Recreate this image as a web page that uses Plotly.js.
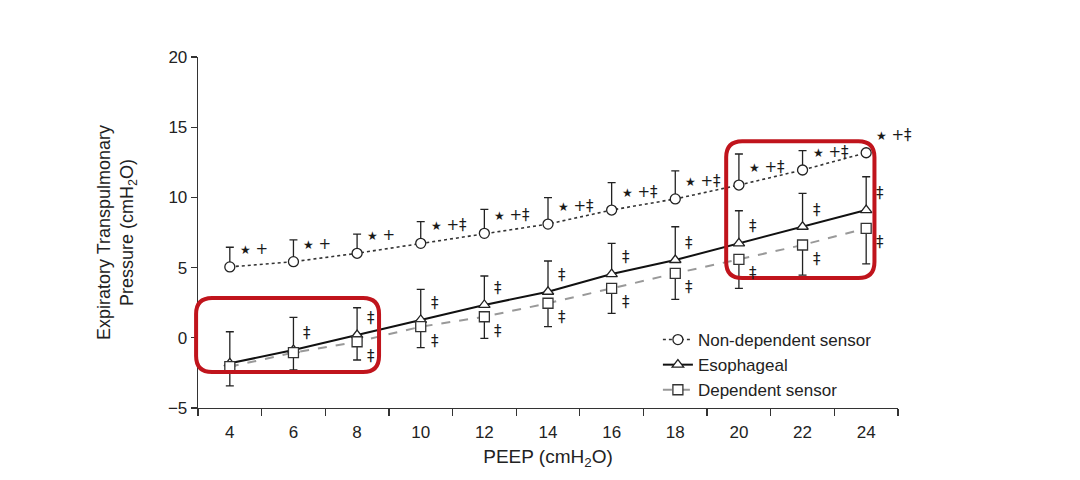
<!DOCTYPE html>
<html><head><meta charset="utf-8">
<script src="https://cdn.plot.ly/plotly-3.0.1.min.js"></script>
<style>html,body{margin:0;padding:0;background:#fff}#chart{width:1080px;height:480px}</style>
</head><body><div id="chart"></div>
<script>
const peep = [4, 6, 8, 10, 12, 14, 16, 18, 20, 22, 24];
const nonDep = [5.05, 5.42, 6.02, 6.73, 7.44, 8.1, 9.1, 9.89, 10.88, 11.95, 13.18];
const nonDepErr = [1.4, 1.55, 1.37, 1.54, 1.71, 1.88, 1.95, 2.0, 2.21, 1.38, 0];
const esoph = [-1.82, -0.87, 0.2, 1.27, 2.34, 3.28, 4.54, 5.54, 6.73, 7.91, 9.1];
const esophErr = [2.25, 2.33, 1.94, 2.18, 2.06, 2.19, 2.19, 2.37, 2.32, 2.38, 2.37];
const dep = [-2.06, -1.06, -0.28, 0.79, 1.5, 2.46, 3.52, 4.59, 5.59, 6.61, 7.8];
const depErr = [1.37, 1.23, 1.3, 1.49, 1.54, 1.67, 1.78, 1.85, 2.07, 2.14, 2.54];
const nonDepSig = ['★ +', '★ +', '★ +', '★ +‡', '★ +‡', '★ +‡', '★ +‡', '★ +‡', '★ +‡', '★ +‡', '★ +‡'];
const esophSig = ['', '‡', '‡', '‡', '‡', '‡', '‡', '‡', '‡', '‡', '‡'];
const depSig = ['', '', '‡', '‡', '‡', '‡', '‡', '‡', '‡', '‡', '‡'];
const xTickVals = [4, 6, 8, 10, 12, 14, 16, 18, 20, 22, 24];
const yTickVals = [-5, 0, 5, 10, 15, 20];
// highlight boxes (data units): [x0, x1, y0, y1]
const boxLow = [2.94, 8.69, -2.44, 2.83];
const boxHigh = [19.6, 24.26, 4.26, 14.0];

const FONT = 'Liberation Sans, Arial, sans-serif';
const SYMFONT = 'DejaVu Sans, Liberation Sans, sans-serif';
const XR = [3, 25], YR = [-5, 20];

function zeros(a){ return a.map(() => 0); }

const traces = [
  { name: 'Non-dependent sensor', x: peep, y: nonDep, mode: 'lines+markers',
    line: {color: '#333', width: 1.6, dash: 'dot'},
    marker: {symbol: 'circle', size: 10, color: '#fff', line: {color: '#222', width: 1.3}},
    error_y: {type: 'data', symmetric: false, array: nonDepErr, arrayminus: zeros(nonDepErr), color: '#222', thickness: 1.3, width: 4}
  },
  { name: 'Esophageal', x: peep, y: esoph, mode: 'lines+markers',
    line: {color: '#111', width: 2},
    marker: {symbol: 'triangle-up', size: 10, color: '#fff', line: {color: '#222', width: 1.3}},
    error_y: {type: 'data', symmetric: false, array: esophErr, arrayminus: zeros(esophErr), color: '#222', thickness: 1.3, width: 4}
  },
  { name: 'Dependent sensor', x: peep, y: dep, mode: 'lines+markers',
    line: {color: '#999', width: 2, dash: 'dash'},
    marker: {symbol: 'square', size: 10, color: '#fff', line: {color: '#333', width: 1.3}},
    error_y: {type: 'data', symmetric: false, array: zeros(depErr), arrayminus: depErr, color: '#222', thickness: 1.3, width: 4}
  }
];

const annotations = [];
function fmtSig(t){
  return t.replace('★', "<span style='font-size:12px'>★</span>");
}
function addSig(labels, vals, yshift){
  labels.forEach((t, i) => {
    if (!t) return;
    annotations.push({x: peep[i], y: vals[i], xref: 'x', yref: 'y', text: fmtSig(t), showarrow: false,
      xanchor: 'left', yanchor: 'middle', xshift: 8, yshift: yshift,
      font: {family: SYMFONT, size: 15, color: '#1a1a1a'}});
  });
}
addSig(nonDepSig, nonDep, 18);
addSig(esophSig, esoph, 17);
addSig(depSig, dep, -14);

function px(x){ return (x - XR[0]) / (XR[1] - XR[0]); }
function py(y){ return (y - YR[0]) / (YR[1] - YR[0]); }
function roundBox(b){
  const x0 = px(b[0]), x1 = px(b[1]), y0 = py(b[2]), y1 = py(b[3]);
  const rx = 16 / 700, ry = 16 / 351;
  const p = `M ${x0+rx},${y0} L ${x1-rx},${y0} Q ${x1},${y0} ${x1},${y0+ry} L ${x1},${y1-ry} Q ${x1},${y1} ${x1-rx},${y1} L ${x0+rx},${y1} Q ${x0},${y1} ${x0},${y1-ry} L ${x0},${y0+ry} Q ${x0},${y0} ${x0+rx},${y0} Z`;
  return {type: 'path', xref: 'paper', yref: 'paper', path: p, line: {color: '#c0141c', width: 4}, fillcolor: 'rgba(0,0,0,0)', layer: 'above'};
}

const layout = {
  width: 1080, height: 480,
  paper_bgcolor: '#fff', plot_bgcolor: '#fff',
  margin: {l: 198, r: 182, t: 57, b: 72},
  font: {family: FONT, size: 17, color: '#222'},
  showlegend: true,
  legend: {x: 0.657, y: 0.245, xanchor: 'left', yanchor: 'top', bgcolor: 'rgba(0,0,0,0)',
    font: {family: FONT, size: 17, color: '#222'}, tracegroupgap: 0},
  xaxis: {range: XR, tickmode: 'array', tickvals: xTickVals, ticks: 'outside', ticklen: 8,
    tickcolor: 'rgba(0,0,0,0)', showgrid: false, zeroline: false, showline: true, linecolor: '#333', linewidth: 1.3,
    minor: {tick0: 3, dtick: 2, ticks: 'outside', ticklen: 7, tickcolor: '#333', tickwidth: 1.3, showgrid: false},
    tickfont: {family: FONT, size: 17, color: '#222'},
    title: {text: 'PEEP (cmH<sub>2</sub>O)', font: {family: FONT, size: 19, color: '#222'}, standoff: 9}
  },
  yaxis: {range: YR, tickmode: 'array', tickvals: yTickVals, ticks: 'outside', ticklen: 6, tickcolor: '#333', tickwidth: 1.3,
    showgrid: false, zeroline: false, showline: true, linecolor: '#333', linewidth: 1.3,
    tickfont: {family: FONT, size: 17, color: '#222'},
    title: {text: 'Expiratory Transpulmonary<br>Pressure (cmH<sub>2</sub>O)', font: {family: FONT, size: 18, color: '#222'}, standoff: 29}
  },
  annotations: annotations,
  shapes: [roundBox(boxLow), roundBox(boxHigh)]
};

Plotly.newPlot('chart', traces, layout, {displayModeBar: false, staticPlot: true});
</script></body></html>
